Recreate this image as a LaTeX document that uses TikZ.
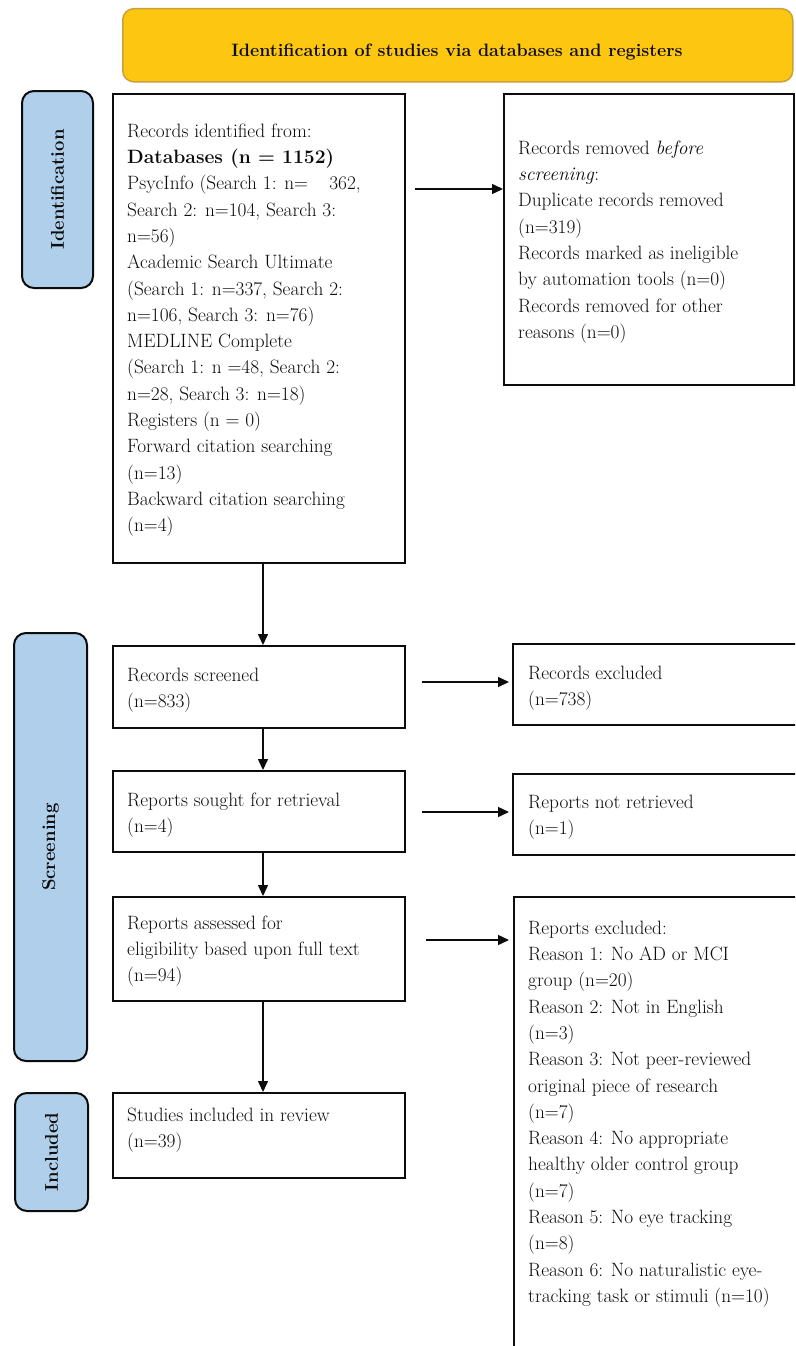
\documentclass[tikz,border=0pt]{standalone}
\usetikzlibrary{arrows.meta,calc}
\definecolor{bannerfill}{RGB}{253,199,17}
\definecolor{bannerdraw}{RGB}{201,161,58}
\definecolor{pillfill}{RGB}{175,207,234}
\definecolor{ink}{RGB}{12,12,12}
\begin{document}
\begin{tikzpicture}[x=1pt,y=-1pt,
  box/.style={draw=ink, line width=1.8pt, anchor=north west, inner sep=0pt},
  txt/.style={anchor=north west, inner sep=0pt, align=left, text=ink,
    font=\fontsize{19.3}{26.3}\selectfont},
  pill/.style={draw=ink, line width=2pt, fill=pillfill, rounded corners=12pt,
    anchor=north west, inner sep=0pt},
  pilltxt/.style={rotate=90, inner sep=0pt, text=ink, font=\bfseries\fontsize{18.5}{20}\selectfont},
  banner/.style={draw=bannerdraw, line width=1.5pt, fill=bannerfill, rounded corners=11pt,
    anchor=north west, inner sep=0pt},
  bantxt/.style={inner sep=0pt, text=ink, font=\bfseries\fontsize{17.9}{20}\selectfont},
  arr/.style={draw=ink, line width=1.5pt, -{Triangle[length=11pt,width=10pt]}}
]
\fill[white] (0,0) rectangle (795,1346);
\clip (0,0) rectangle (795,1346);

% banner
\node[banner, minimum width=670pt, minimum height=73pt] (ban) at (122,8) {};
\node[bantxt] (bant) at (457,52) {Identification of studies via databases and registers};

% phase pills
\node[pill, minimum width=71pt, minimum height=197pt] (pid) at (21,90) {};
\node[pilltxt] (pidt) at (pid.center) {Identification};
\node[pill, minimum width=73pt, minimum height=428pt] (psc) at (13,632) {};
\node[pilltxt] (psct) at (psc.center) {Screening};
\node[pill, minimum width=73pt, minimum height=118pt] (pin) at (14,1092) {};
\node[pilltxt] (pint) at (pin.center) {Included};

% boxes
\node[box, minimum width=292pt, minimum height=469pt] (b1) at (112,93) {};
\node[box, minimum width=290pt, minimum height=291pt] (rem) at (503,93) {};
\node[box, minimum width=292pt, minimum height=82pt] (scr) at (112,645) {};
\node[box, minimum width=300pt, minimum height=81pt] (exc) at (512,643) {};
\node[box, minimum width=292pt, minimum height=81pt] (sou) at (112,770) {};
\node[box, minimum width=300pt, minimum height=81pt] (nrt) at (512,773) {};
\node[box, minimum width=292pt, minimum height=104pt] (ass) at (112,896) {};
\node[box, minimum width=300pt, minimum height=500pt] (rex) at (513,896) {};
\node[box, minimum width=292pt, minimum height=85pt] (inc) at (112,1092) {};

% texts
\node[txt] (b1t) at (127,122) {\rule{0pt}{15pt}Records identified from:\\
\textbf{Databases (n = 1152)}\\
PsycInfo (Search 1: n=\hspace{1.1em}362,\\
Search 2: n=104, Search 3:\\
n=56)\\
Academic Search Ultimate\\
(Search 1: n=337, Search 2:\\
n=106, Search 3: n=76)\\
MEDLINE Complete\\
(Search 1: n =48, Search 2:\\
n=28, Search 3: n=18)\\
Registers (n = 0)\\
Forward citation searching\\
(n=13)\\
Backward citation searching\\
(n=4)};

\node[txt] (remt) at (518,139) {\rule{0pt}{15pt}Records removed \textit{before}\\
\textit{screening}:\\
Duplicate records removed\\
(n=319)\\
Records marked as ineligible\\
by automation tools (n=0)\\
Records removed for other\\
reasons (n=0)};

\node[txt] (scrt) at (127,666) {\rule{0pt}{15pt}Records screened\\ (n=833)};
\node[txt] (exct) at (528,664) {\rule{0pt}{15pt}Records excluded\\ (n=738)};
\node[txt] (sout) at (127,791) {\rule{0pt}{15pt}Reports sought for retrieval\\ (n=4)};
\node[txt] (nrtt) at (528,793) {\rule{0pt}{15pt}Reports not retrieved\\ (n=1)};
\node[txt] (asst) at (127,914) {\rule{0pt}{15pt}Reports assessed for\\ eligibility based upon full text\\ (n=94)};
\node[txt] (inct) at (127,1106) {\rule{0pt}{15pt}Studies included in review\\ (n=39)};
\node[txt] (rext) at (528,919) {\rule{0pt}{15pt}Reports excluded:\\
Reason 1: No AD or MCI\\
group (n=20)\\
Reason 2: Not in English\\
(n=3)\\
Reason 3: Not peer-reviewed\\
original piece of research\\
(n=7)\\
Reason 4: No appropriate\\
healthy older control group\\
(n=7)\\
Reason 5: No eye tracking\\
(n=8)\\
Reason 6: No naturalistic eye-\\
tracking task or stimuli (n=10)};

% connectors
\coordinate (vx) at (263,0);
\draw[arr] (b1.south -| vx) -- (scr.north -| vx);
\draw[arr] (scr.south -| vx) -- (sou.north -| vx);
\draw[arr] (sou.south -| vx) -- (ass.north -| vx);
\draw[arr] (ass.south -| vx) -- (inc.north -| vx);

\coordinate (h1) at (0,189);
\coordinate (h2) at (0,682);
\coordinate (h3) at (0,812);
\coordinate (h4) at (0,940);
\draw[arr] ($(b1.east|-h1)+(9,0)$) -- (rem.west|-h1);
\draw[arr] ($(scr.east|-h2)+(16,0)$) -- ($(exc.west|-h2)+(-3,0)$);
\draw[arr] ($(sou.east|-h3)+(16,0)$) -- ($(nrt.west|-h3)+(-3,0)$);
\draw[arr] ($(ass.east|-h4)+(20,0)$) -- ($(rex.west|-h4)+(-4,0)$);
\end{tikzpicture}
\end{document}
